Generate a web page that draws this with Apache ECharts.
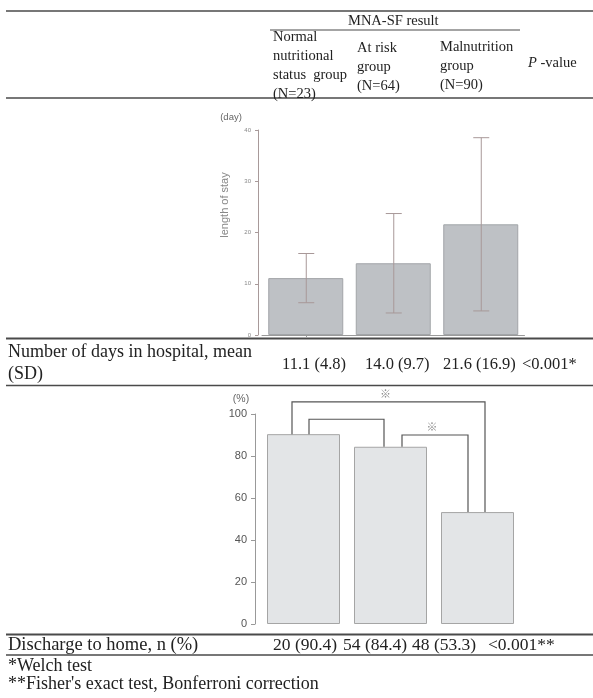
<!DOCTYPE html>
<html><head><meta charset="utf-8">
<script src="https://cdn.jsdelivr.net/npm/echarts@6/dist/echarts.min.js"></script>
<style>html,body{margin:0;padding:0;background:#fff}#c{width:593px;height:698px}</style>
</head><body><div id="c"></div>
<script>
// ---- data ----
const categories = ['Normal nutritional status group', 'At risk group', 'Malnutrition group'];
const groupN = [23, 64, 90];
const stayMean = [11.1, 14.0, 21.6];
const staySD = [4.8, 9.7, 16.9];
const stayP = '<0.001*';
const homeN = [20, 54, 48];
const homePct = [90.4, 84.4, 53.3];
const homeP = '<0.001**';
const bracketFrom = [0, 0, 1];
const bracketTo = [2, 1, 2];
const bracketLevel = [105.8, 97.5, 90];
const bracketMark = ['\u203B', '', '\u203B'];
const footnotes = ['*Welch test', "**Fisher's exact test, Bonferroni correction"];

// ---- layout / style ----
const SERIF = '"Liberation Serif", "DejaVu Serif", serif';
const SANS = '"Liberation Sans", Arial, sans-serif';
const INK = '#222';
const RULE = '#4a4a4a';

function txt(x, y, s, size, extra) {
  return Object.assign({
    type: 'text', x: x, y: y, silent: true,
    style: Object.assign({ text: s, fontSize: size, fontFamily: SERIF, fill: INK, verticalAlign: 'middle', align: 'left' }, extra && extra.style)
  }, extra && extra.el);
}
function rule(x1, y, x2, w) {
  return { type: 'line', silent: true, shape: { x1: x1, y1: y, x2: x2, y2: y }, style: { stroke: RULE, lineWidth: w || 1.5 } };
}

const headerCols = [
  { x: 273, ys: [37, 56, 75, 94], lines: ['Normal', 'nutritional', 'status  group', '(N=' + groupN[0] + ')'] },
  { x: 357, ys: [48, 67, 86], lines: ['At risk', 'group', '(N=' + groupN[1] + ')'] },
  { x: 440, ys: [47, 66, 85], lines: ['Malnutrition', 'group', '(N=' + groupN[2] + ')'] }
];

const graphics = [
  rule(6, 11, 593, 1.5),
  rule(270, 30, 520, 1.2),
  rule(6, 98, 593, 1.5),
  rule(6, 338.5, 593, 1.8),
  rule(6, 385.5, 593, 1.5),
  rule(6, 634.5, 593, 1.8),
  rule(6, 655, 593, 1.5),
  txt(348, 21, 'MNA-SF result', 14.5),
  {
    type: 'text', x: 528, y: 63, silent: true,
    style: { text: '{i|P} -value', fontSize: 14.5, fontFamily: SERIF, fill: INK, verticalAlign: 'middle',
      rich: { i: { fontStyle: 'italic', fontSize: 14.5, fontFamily: SERIF, fill: INK } } }
  },
  txt(8, 352, 'Number of days in hospital, mean', 18),
  txt(8, 374, '(SD)', 18),
  txt(8, 645, 'Discharge to home, n (%)', 18.5),
  txt(8, 666, footnotes[0], 18),
  txt(8, 684, footnotes[1], 18),
  txt(231, 117, '(day)', 9.5, { style: { fontFamily: SANS, fill: '#666', align: 'center' } }),
  txt(241, 399, '(%)', 10.5, { style: { fontFamily: SANS, fill: '#666', align: 'center' } }),
  txt(225, 205, 'length of stay', 11, { style: { fontFamily: SANS, fill: '#888', align: 'center' }, el: { rotation: Math.PI / 2 } })
];
headerCols.forEach(c => c.lines.forEach((l, k) => graphics.push(txt(c.x, c.ys[k], l, 14.5))));
const row1X = [282, 365, 443, 522];
stayMean.forEach((m, i) => graphics.push(txt(row1X[i], 365, m.toFixed(1) + ' (' + staySD[i].toFixed(1) + ')', 16.5)));
graphics.push(txt(row1X[3], 365, stayP, 16.5));
const row2X = [273, 343, 412, 488];
homeN.forEach((n, i) => graphics.push(txt(row2X[i], 645, n + ' (' + homePct[i].toFixed(1) + ')', 17.5)));
graphics.push(txt(row2X[3], 645, homeP, 17.5));

const legShift = [[-11.5, 7.5], [5.5, -6.5], [11.5, -9.5]];

const option = {
  backgroundColor: '#fff',
  animation: false,
  graphic: graphics,
  grid: [
    { left: 262, top: 130, width: 262.5, height: 205 },
    { left: 260, top: 414, width: 261, height: 210 }
  ],
  xAxis: [
    { type: 'category', gridIndex: 0, data: categories,
      axisLine: { show: true, lineStyle: { color: '#9a9a9a', width: 1 } },
      axisTick: { show: true, length: 2, alignWithLabel: true, lineStyle: { color: '#9a9a9a' } },
      axisLabel: { show: false }, splitLine: { show: false } },
    { type: 'category', gridIndex: 1, data: categories, show: false }
  ],
  yAxis: [
    { type: 'value', gridIndex: 0, min: 0, max: 40, interval: 10, offset: 4,
      axisLine: { show: true, lineStyle: { color: '#a89a9a', width: 1 } },
      axisTick: { show: true, length: 3, lineStyle: { color: '#a89a9a' } },
      axisLabel: { fontSize: 6, color: '#888', margin: 7, fontFamily: SANS },
      splitLine: { show: false } },
    { type: 'value', gridIndex: 1, min: 0, max: 100, interval: 20, offset: 5,
      axisLine: { show: true, lineStyle: { color: '#999', width: 1 } },
      axisTick: { show: true, length: 4, lineStyle: { color: '#999' } },
      axisLabel: { fontSize: 11, color: '#555', margin: 8, fontFamily: SANS },
      splitLine: { show: false } }
  ],
  series: [
    { type: 'bar', xAxisIndex: 0, yAxisIndex: 0, data: stayMean, barWidth: 75,
      itemStyle: { color: '#bec1c5', borderColor: '#a2a5a8', borderWidth: 1 }, silent: true },
    { type: 'custom', xAxisIndex: 0, yAxisIndex: 0, silent: true, z: 5,
      data: stayMean.map((m, i) => [i, m, staySD[i]]),
      encode: { x: 0, y: 1 },
      renderItem: function (params, api) {
        const i = api.value(0), m = api.value(1), sd = api.value(2);
        const lo = api.coord([i, m - sd]), hi = api.coord([i, m + sd]);
        const x = lo[0] + 0.5, cap = 8;
        const st = { stroke: '#a89898', lineWidth: 1 };
        return { type: 'group', children: [
          { type: 'line', shape: { x1: x, y1: lo[1], x2: x, y2: hi[1] }, style: st },
          { type: 'line', shape: { x1: x - cap, y1: lo[1], x2: x + cap, y2: lo[1] }, style: st },
          { type: 'line', shape: { x1: x - cap, y1: hi[1], x2: x + cap, y2: hi[1] }, style: st }
        ] };
      } },
    { type: 'bar', xAxisIndex: 1, yAxisIndex: 1, data: homePct, barWidth: 73,
      itemStyle: { color: '#e3e5e7', borderColor: '#a5a5a5', borderWidth: 1 }, silent: true },
    { type: 'custom', xAxisIndex: 1, yAxisIndex: 1, silent: true, clip: false, z: 5,
      data: bracketFrom.map((a, i) => [a, bracketTo[i], bracketLevel[i]]),
      encode: { x: 0 },
      renderItem: function (params, api) {
        const k = params.dataIndex;
        const a = api.value(0), b = api.value(1), h = api.value(2);
        const pA = api.coord([a, homePct[a]]), pB = api.coord([b, homePct[b]]);
        const top = api.coord([a, h])[1];
        const xa = pA[0] + legShift[k][0], xb = pB[0] + legShift[k][1];
        const children = [{
          type: 'polyline',
          shape: { points: [[xa, pA[1]], [xa, top], [xb, top], [xb, pB[1]]] },
          style: { stroke: '#555', lineWidth: 1.2, fill: null }
        }];
        if (bracketMark[k]) {
          children.push({ type: 'text', x: (xa + xb) / 2 - 3, y: top - 8,
            style: { text: bracketMark[k], fontSize: 11, fontFamily: '"Noto Sans CJK JP", sans-serif', fill: '#888', align: 'center', verticalAlign: 'middle' } });
        }
        return { type: 'group', children: children };
      } }
  ]
};
const chart = echarts.init(document.getElementById('c'), null, { renderer: 'canvas' });
chart.setOption(option);
</script></body></html>
